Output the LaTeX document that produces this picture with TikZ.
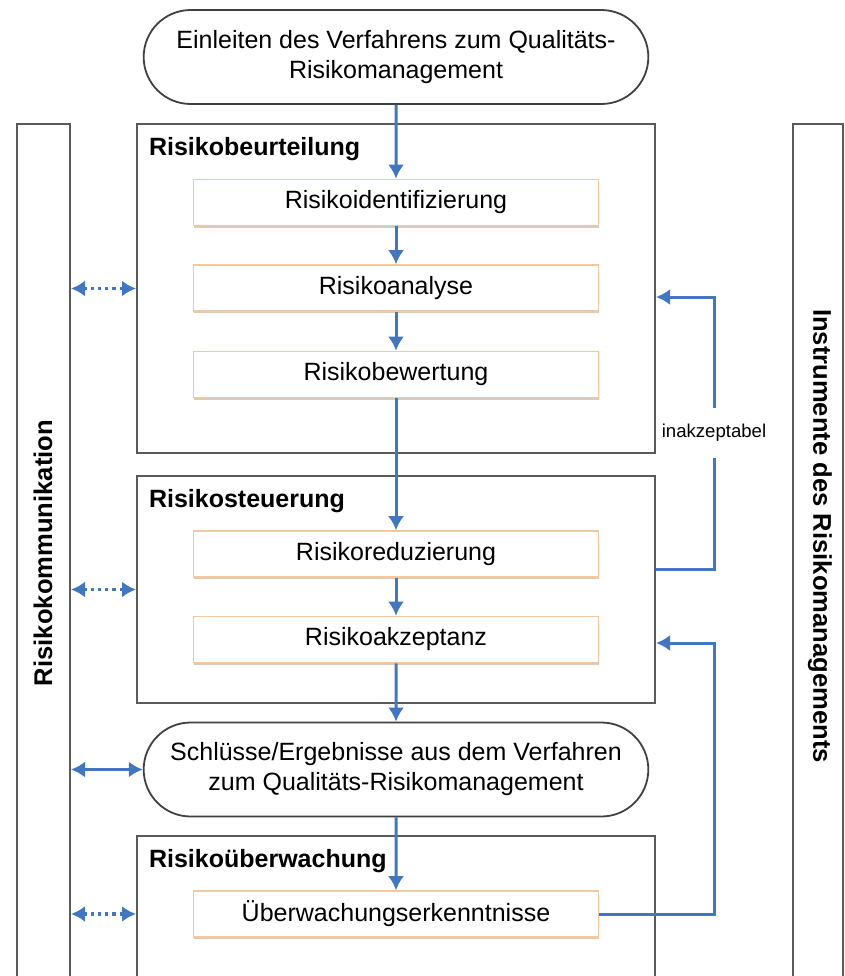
\documentclass[tikz,border=0pt]{standalone}
\usepackage{fontspec}
\setmainfont{Liberation Sans}
\usetikzlibrary{arrows.meta,shapes.misc,shadows,positioning}
\definecolor{pfeilblau}{RGB}{66,119,192}
\definecolor{rahmengrau}{RGB}{90,90,90}
\definecolor{kastenrand}{RGB}{243,200,160}
\definecolor{schatten}{RGB}{205,180,155}

\begin{document}
\begin{tikzpicture}[x=0.5pt,y=-0.5pt,
   every node/.style={font=\fontsize{12.5}{15}\selectfont},
   rahmen/.style={draw=rahmengrau,line width=1pt,minimum width=259pt},
   saeule/.style={draw=rahmengrau,line width=1pt,minimum height=433pt},
   kasten/.style={draw=kastenrand,fill=white,line width=0.8pt,
      minimum width=202.5pt,minimum height=23pt,
      drop shadow={shadow xshift=0.4pt,shadow yshift=-1.2pt,fill=schatten,opacity=.7}},
   ende/.style={rounded rectangle,draw=black!75,line width=0.9pt,fill=white,
      minimum width=259pt,minimum height=47pt,align=center},
   titel/.style={font=\fontsize{12.5}{15}\selectfont\bfseries,anchor=west},
   seite/.style={font=\fontsize{12.8}{15}\selectfont\bfseries},
   pfeil/.style={draw=pfeilblau,line width=1.5pt,-{Latex[length=7pt,width=8pt]}},
   doppelpfeil/.style={draw=pfeilblau,line width=1.5pt,
      {Latex[length=7pt,width=8pt]}-{Latex[length=7pt,width=8pt]}},
   punktpfeil/.style={doppelpfeil,line width=1.6pt,dash pattern=on 1.6pt off 2pt}]

\useasboundingbox (0,0) rectangle (845,976);
\clip (0,0) rectangle (845,976);

% Saeulen links und rechts
\node[saeule,minimum width=26.5pt] (komm) at (43.5,557) {};
\node[seite,rotate=90] (kommtext) at (43,553) {Risikokommunikation};
\node[saeule,minimum width=25pt] (instr) at (818,557) {};
\node[seite,rotate=-90] (instrtext) at (820,536) {Instrumente des Risikomanagements};

% Rahmen
\node[rahmen,minimum height=164.5pt] (beurt) at (396,288.5) {};
\node[rahmen,minimum height=113.5pt] (steuer) at (396,589.5) {};
\node[rahmen,minimum height=77pt] (ueberw) at (396,913) {};
\node[titel] (t1) at ([xshift=3pt,yshift=-13pt]beurt.north west) {Risikobeurteilung};
\node[titel] (t2) at ([xshift=3pt,yshift=-13pt]steuer.north west) {Risikosteuerung};
\node[titel] (t3) at ([xshift=3pt,yshift=-13pt]ueberw.north west) {Risikoüberwachung};

\node[ende] (start) at (396,57) {Einleiten des Verfahrens zum Qualitäts-\\Risikomanagement};
\node[ende] (schluss) at (396,769.5) {Schlüsse/Ergebnisse aus dem Verfahren\\zum Qualitäts-Risikomanagement};

\node[kasten] (ident) at (396,202.5) {Risikoidentifizierung};
\node[kasten] (anal) at (396,288) {Risikoanalyse};
\node[kasten] (bew) at (396,374.5) {Risikobewertung};
\node[kasten] (red) at (396,554) {Risikoreduzierung};
\node[kasten] (akz) at (396,639.5) {Risikoakzeptanz};
\node[kasten] (erk) at (396,914) {Überwachungserkenntnisse};

\draw[pfeil] (start) -- (ident);
\draw[pfeil] (ident) -- (anal);
\draw[pfeil] (anal) -- (bew);
\draw[pfeil] (bew) -- (red);
\draw[pfeil] (red) -- (akz);
\draw[pfeil] (akz) -- (schluss);
\draw[pfeil] (schluss) -- (erk);

% Rueckfuehrungen
\draw[pfeil] (steuer.east |- 0,569) -| (714,297)
   node[pos=0.75,fill=white,inner ysep=8pt,inner xsep=1pt,font=\fontsize{9.3}{11}\selectfont] (inakz) {inakzeptabel}
   -- (beurt.east |- 0,297);
\draw[pfeil] (erk.east) -| (714,643) -- (steuer.east |- 0,643);

% Kommunikation
\draw[punktpfeil] (komm.east |- beurt.west) -- (beurt.west);
\draw[punktpfeil] (komm.east |- steuer.west) -- (steuer.west);
\draw[doppelpfeil] (komm.east |- schluss.west) -- (schluss.west);
\draw[punktpfeil] (komm.east |- erk) -- (ueberw.west |- erk);

\end{tikzpicture}
\end{document}
